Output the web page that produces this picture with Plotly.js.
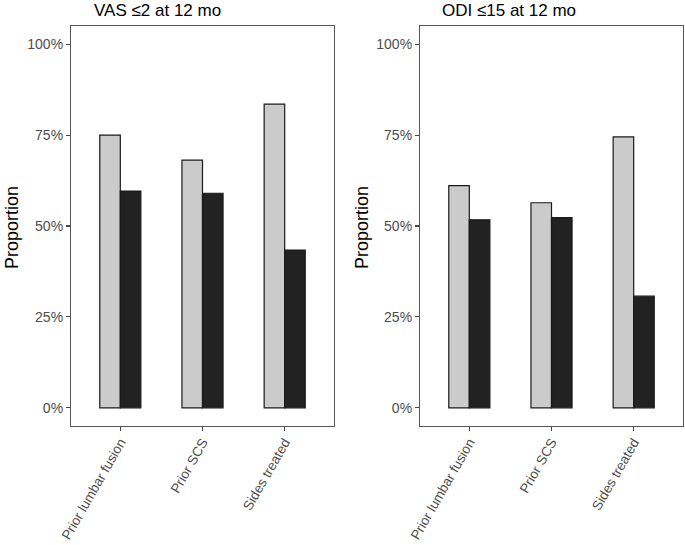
<!DOCTYPE html>
<html>
<head>
<meta charset="utf-8">
<script src="https://cdn.plot.ly/plotly-3.0.1.min.js"></script>
<style>html,body{margin:0;padding:0;background:#fff;}#chart{width:685px;height:545px;}</style>
</head>
<body>
<div id="chart"></div>
<script>
// ---- data ----
const categories = ["Prior lumbar fusion", "Prior SCS", "Sides treated"];
const panelTitles = ["VAS \u22642 at 12 mo", "ODI \u226415 at 12 mo"];
const vasLight = [0.750, 0.681, 0.835];
const vasDark  = [0.596, 0.590, 0.434];
const odiLight = [0.611, 0.564, 0.745];
const odiDark  = [0.517, 0.523, 0.307];
const yTickVals = [0, 0.25, 0.5, 0.75, 1];
const yTickText = ["0%", "25%", "50%", "75%", "100%"];

const W = 685, H = 545;
const FONT = "Liberation Sans, Arial, sans-serif";
const lightCol = "#CBCBCB", darkCol = "#222222", edgeCol = "#1a1a1a";

function bar(y, col, xa, ya, name) {
  return {
    type: "bar", x: categories, y: y, name: name, xaxis: xa, yaxis: ya,
    marker: {color: col, line: {color: edgeCol, width: 1.2}},
    showlegend: false, hoverinfo: "x+y"
  };
}
const data = [
  bar(vasLight, lightCol, "x", "y", "Group 1"),
  bar(vasDark, darkCol, "x", "y", "Group 2"),
  bar(odiLight, lightCol, "x2", "y2", "Group 1"),
  bar(odiDark, darkCol, "x2", "y2", "Group 2")
];

function xax(dom, anchor) {
  return {
    domain: dom, anchor: anchor, type: "category", range: [-0.6, 2.6],
    showline: true, mirror: true, linecolor: "#555", linewidth: 1.1,
    ticks: "outside", ticklen: 4, tickcolor: "#444", tickwidth: 1.1,
    tickangle: -60, ticklabelstandoff: -2, showgrid: false, zeroline: false,
    tickfont: {family: FONT, size: 13.6, color: "#4D4D4D"}, fixedrange: true
  };
}
function yax(anchor) {
  return {
    domain: [1 - 426 / H, 1 - 26 / H], anchor: anchor, range: [-0.05, 1.05],
    tickvals: yTickVals, ticktext: yTickText,
    showline: true, mirror: true, linecolor: "#555", linewidth: 1.1,
    ticks: "outside", ticklen: 4, tickcolor: "#444", tickwidth: 1.1,
    showgrid: false, zeroline: false,
    tickfont: {family: FONT, size: 14, color: "#4D4D4D"}, fixedrange: true
  };
}

const layout = {
  width: W, height: H,
  margin: {l: 0, r: 0, t: 0, b: 0},
  paper_bgcolor: "#fff", plot_bgcolor: "#fff",
  barmode: "group", bargap: 0.5, bargroupgap: 0,
  xaxis: xax([71 / W, 334 / W], "y"),
  yaxis: yax("x"),
  xaxis2: xax([420 / W, 683 / W], "y2"),
  yaxis2: yax("x2"),
  annotations: [
    {text: panelTitles[0], xref: "paper", yref: "paper", x: 92 / W, y: 1 - 10 / H,
     xanchor: "left", yanchor: "middle", showarrow: false, font: {family: FONT, size: 17, color: "#000"}},
    {text: panelTitles[1], xref: "paper", yref: "paper", x: 440 / W, y: 1 - 10 / H,
     xanchor: "left", yanchor: "middle", showarrow: false, font: {family: FONT, size: 17, color: "#000"}},
    {text: "Proportion", xref: "paper", yref: "paper", x: 12 / W, y: 1 - 228 / H, textangle: -90,
     xanchor: "center", yanchor: "middle", showarrow: false, font: {family: FONT, size: 18, color: "#000"}},
    {text: "Proportion", xref: "paper", yref: "paper", x: 362 / W, y: 1 - 228 / H, textangle: -90,
     xanchor: "center", yanchor: "middle", showarrow: false, font: {family: FONT, size: 18, color: "#000"}}
  ]
};

Plotly.newPlot("chart", data, layout, {displayModeBar: false, staticPlot: true});
</script>
</body>
</html>
